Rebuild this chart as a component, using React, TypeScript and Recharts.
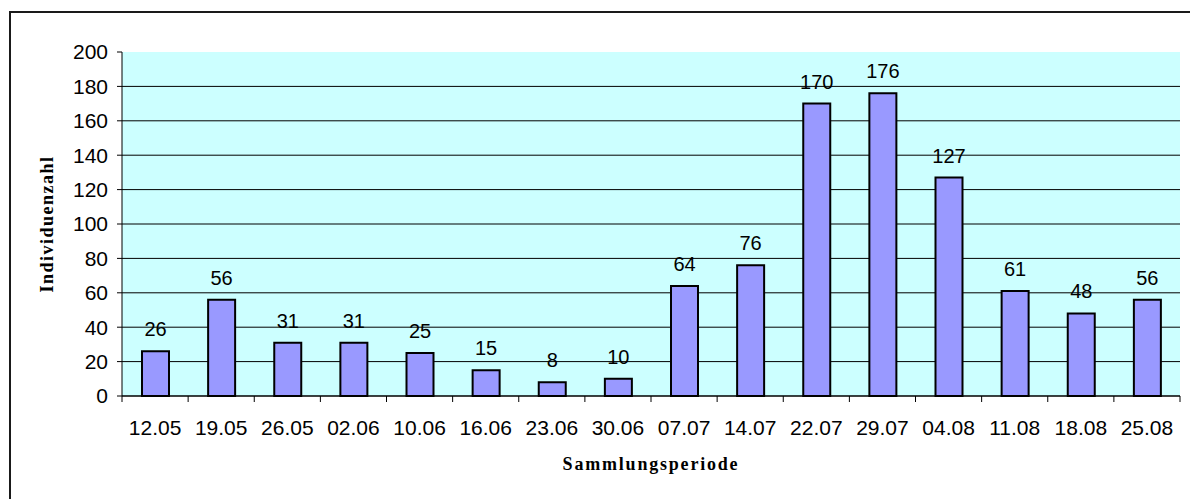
import { BarChart, Bar, XAxis, YAxis, CartesianGrid, LabelList, Label } from 'recharts';

const periods = ['12.05', '19.05', '26.05', '02.06', '10.06', '16.06', '23.06', '30.06', '07.07', '14.07', '22.07', '29.07', '04.08', '11.08', '18.08', '25.08'];
const counts = [26, 56, 31, 31, 25, 15, 8, 10, 64, 76, 170, 176, 127, 61, 48, 56];
const yTicks = [0, 20, 40, 60, 80, 100, 120, 140, 160, 180, 200];
const gridValues = [20, 40, 60, 80, 100, 120, 140, 160, 180];

const data = periods.map((p, i) => ({ period: p, count: counts[i] }));

const W = 1190;
const H = 499;
const margin = { top: 52, right: 10, bottom: 23, left: 60 };
const Y_W = 62;
const X_H = 80;
const PLOT_W = W - margin.left - margin.right - Y_W;
const PLOT_BOTTOM = H - margin.bottom - X_H;
const sans = '"Liberation Sans", Arial, sans-serif';
const serif = '"Liberation Serif", "Times New Roman", serif';

const XTick = (props: any) => {
  const { x, payload, index } = props;
  const half = PLOT_W / periods.length / 2;
  return (
    <g>
      <line x1={x - half} x2={x - half} y1={PLOT_BOTTOM} y2={PLOT_BOTTOM + 6} stroke="#000" />
      {index === periods.length - 1 && (
        <line x1={x + half} x2={x + half} y1={PLOT_BOTTOM} y2={PLOT_BOTTOM + 6} stroke="#000" />
      )}
      <text x={x} y={PLOT_BOTTOM + 39} textAnchor="middle" fill="#000" fontSize={21} fontFamily={sans}>
        {payload.value}
      </text>
    </g>
  );
};

export default function App() {
  return (
    <div style={{ position: 'fixed', top: 0, left: 0, width: W, height: H, overflow: 'hidden', background: '#fff' }}>
      <div style={{ position: 'absolute', top: 11, left: 9, width: 1400, height: 700, borderTop: '2px solid #1a1a1a', borderLeft: '2px solid #1a1a1a' }} />
      <div style={{ position: 'absolute', top: 0, left: 0 }}>
        <BarChart width={W} height={H} data={data} margin={margin} barSize={27}>
          <CartesianGrid vertical={false} horizontalValues={gridValues} stroke="#000" fill="#CCFFFF" fillOpacity={1} />
          <XAxis
            dataKey="period"
            height={X_H}
            interval={0}
            tickLine={false}
            axisLine={{ stroke: '#000', strokeWidth: 1.5 }}
            tick={<XTick />}
          >
            <Label
              content={() => (
                <text x={margin.left + Y_W + PLOT_W / 2} y={470} textAnchor="middle" fontFamily={serif} fontWeight="bold" fontSize={18} letterSpacing={1.8} fill="#000">
                  Sammlungsperiode
                </text>
              )}
            />
          </XAxis>
          <YAxis
            width={Y_W}
            domain={[0, 200]}
            ticks={yTicks}
            interval={0}
            tickSize={5}
            tickMargin={9}
            axisLine={{ stroke: '#000' }}
            tickLine={{ stroke: '#000' }}
            tick={{ fill: '#000', fontSize: 21, fontFamily: sans }}
          >
            <Label
              content={() => {
                const cy = margin.top + (PLOT_BOTTOM - margin.top) / 2;
                return (
                  <text x={47} y={cy} transform={`rotate(-90 47 ${cy})`} textAnchor="middle" dominantBaseline="central" fontFamily={serif} fontWeight="bold" fontSize={18} letterSpacing={1.5} fill="#000">
                    Individuenzahl
                  </text>
                );
              }}
            />
          </YAxis>
          <Bar dataKey="count" fill="#9999FF" stroke="#000" strokeWidth={2} isAnimationActive={false}>
            <LabelList dataKey="count" position="top" offset={15} fill="#000" fontSize={20} fontFamily={sans} />
          </Bar>
        </BarChart>
      </div>
    </div>
  );
}
